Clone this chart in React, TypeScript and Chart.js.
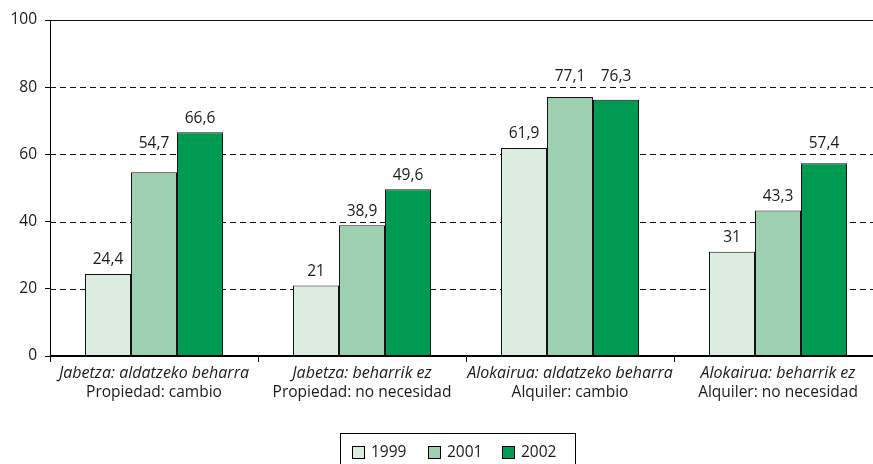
import React, { useEffect, useRef } from "react";
import { Chart, registerables } from "chart.js";

Chart.register(...registerables);

const categoriesEu = [
  "Jabetza: aldatzeko beharra",
  "Jabetza: beharrik ez",
  "Alokairua: aldatzeko beharra",
  "Alokairua: beharrik ez",
];
const categoriesEs = [
  "Propiedad: cambio",
  "Propiedad: no necesidad",
  "Alquiler: cambio",
  "Alquiler: no necesidad",
];
const years = ["1999", "2001", "2002"];
const values1999 = [24.4, 21, 61.9, 31];
const values2001 = [54.7, 38.9, 77.1, 43.3];
const values2002 = [66.6, 49.6, 76.3, 57.4];
const yTicks = [0, 20, 40, 60, 80, 100];

const colors = ["#dcede0", "#9fcfb1", "#009b52"];
const FONT = "'Open Sans', sans-serif";
const FS = 15.5;
const FS_IT = 16;

const decorPlugin = {
  id: "decor",
  beforeDatasetsDraw(chart: any) {
    const { ctx, chartArea } = chart;
    const y = chart.scales.y;
    ctx.save();
    ctx.strokeStyle = "#111";
    ctx.lineWidth = 1;
    yTicks.forEach((t) => {
      if (t === 0) return;
      const py = Math.round(y.getPixelForValue(t)) + 0.5;
      ctx.setLineDash(t === 100 ? [] : [6, 4]);
      ctx.beginPath();
      ctx.moveTo(chartArea.left, py);
      ctx.lineTo(chartArea.right, py);
      ctx.stroke();
    });
    ctx.restore();
  },
  afterDatasetsDraw(chart: any) {
    const { ctx } = chart;
    const ys = chart.scales.y;
    const gridYs = yTicks.filter((t) => t > 0 && t < 100).map((t) => ys.getPixelForValue(t));
    ctx.save();
    // axis line redrawn over the bar bottoms
    ctx.strokeStyle = "#000";
    ctx.lineWidth = 1;
    const by = Math.round(ys.getPixelForValue(0)) - 0.5;
    ctx.beginPath();
    ctx.moveTo(chart.chartArea.left, by);
    ctx.lineTo(chart.chartArea.right, by);
    ctx.stroke();

    ctx.font = `${FS}px ${FONT}`;
    ctx.fillStyle = "#1a1a1a";
    ctx.textAlign = "center";
    ctx.textBaseline = "middle";
    chart.data.datasets.forEach((ds: any, di: number) => {
      const meta = chart.getDatasetMeta(di);
      meta.data.forEach((el: any, i: number) => {
        const v = ds.data[i];
        let cy = el.y - 14;
        // keep labels off the dashed gridlines
        gridYs.forEach((gy: number) => {
          if (Math.abs(cy - gy) < 9) cy = gy - 11;
        });
        ctx.fillText(String(v).replace(".", ","), el.x, cy);
      });
    });
    // two-line category labels (Basque italic, Spanish regular)
    const xs = chart.scales.x;
    chart.data.labels.forEach((_: any, i: number) => {
      const px = xs.getPixelForValue(i);
      ctx.font = `italic ${FS_IT}px ${FONT}`;
      ctx.fillText(categoriesEu[i], px, 373);
      ctx.font = `${FS}px ${FONT}`;
      ctx.fillText(categoriesEs[i], px, 393);
    });
    // boxed legend
    ctx.strokeStyle = "#000";
    ctx.lineWidth = 1;
    ctx.strokeRect(340.5, 433.5, 235, 40);
    const itemX = [352, 428, 502];
    ctx.textAlign = "left";
    chart.data.datasets.forEach((ds: any, di: number) => {
      const x = itemX[di];
      ctx.fillStyle = ds.backgroundColor;
      ctx.fillRect(x + 0.5, 446.5, 12, 12);
      ctx.strokeRect(x + 0.5, 446.5, 12, 12);
      ctx.fillStyle = "#1a1a1a";
      ctx.font = `${FS}px ${FONT}`;
      ctx.fillText(ds.label, x + 19, 453);
    });
    ctx.restore();
  },
};

export default function App() {
  const ref = useRef<HTMLCanvasElement>(null);
  useEffect(() => {
    if (!ref.current) return;
    const chart = new Chart(ref.current, {
      type: "bar",
      data: {
        labels: categoriesEu,
        datasets: [values1999, values2001, values2002].map((d, i) => ({
          label: years[i],
          data: d,
          backgroundColor: colors[i],
          borderColor: "#111",
          borderWidth: 1,
          borderSkipped: "start",
          inflateAmount: 0,
          categoryPercentage: 138 / 208,
          barPercentage: 1,
        })),
      },
      options: {
        responsive: false,
        animation: false,
        devicePixelRatio: 1,
        layout: { padding: { left: 0, top: 20, right: 8, bottom: 0 } },
        plugins: { legend: { display: false }, tooltip: { enabled: false } },
        scales: {
          x: {
            grid: {
              offset: true,
              drawOnChartArea: false,
              drawTicks: true,
              tickLength: 6,
              color: "#000",
            },
            border: { color: "#000", width: 1 },
            ticks: { display: false },
            afterFit: (s: any) => {
              s.height = 108;
            },
          },
          y: {
            min: 0,
            max: 100,
            afterBuildTicks: (s: any) => {
              s.ticks = yTicks.map((v) => ({ value: v }));
            },
            grid: {
              drawOnChartArea: false,
              drawTicks: true,
              tickLength: 5,
              color: "#000",
            },
            border: { color: "#000", width: 1 },
            ticks: {
              padding: 8,
              color: "#1a1a1a",
              font: { family: FONT, size: FS },
            },
            afterFit: (s: any) => {
              s.width = 50;
            },
          },
        },
      },
      plugins: [decorPlugin],
    });
    return () => chart.destroy();
  }, []);
  return (
    <div
      style={{
        position: "absolute",
        left: 0,
        top: 0,
        width: 873,
        height: 464,
        overflow: "hidden",
        background: "#fff",
      }}
    >
      <canvas ref={ref} width={890} height={464} style={{ width: 890, height: 464, display: "block" }} />
    </div>
  );
}
